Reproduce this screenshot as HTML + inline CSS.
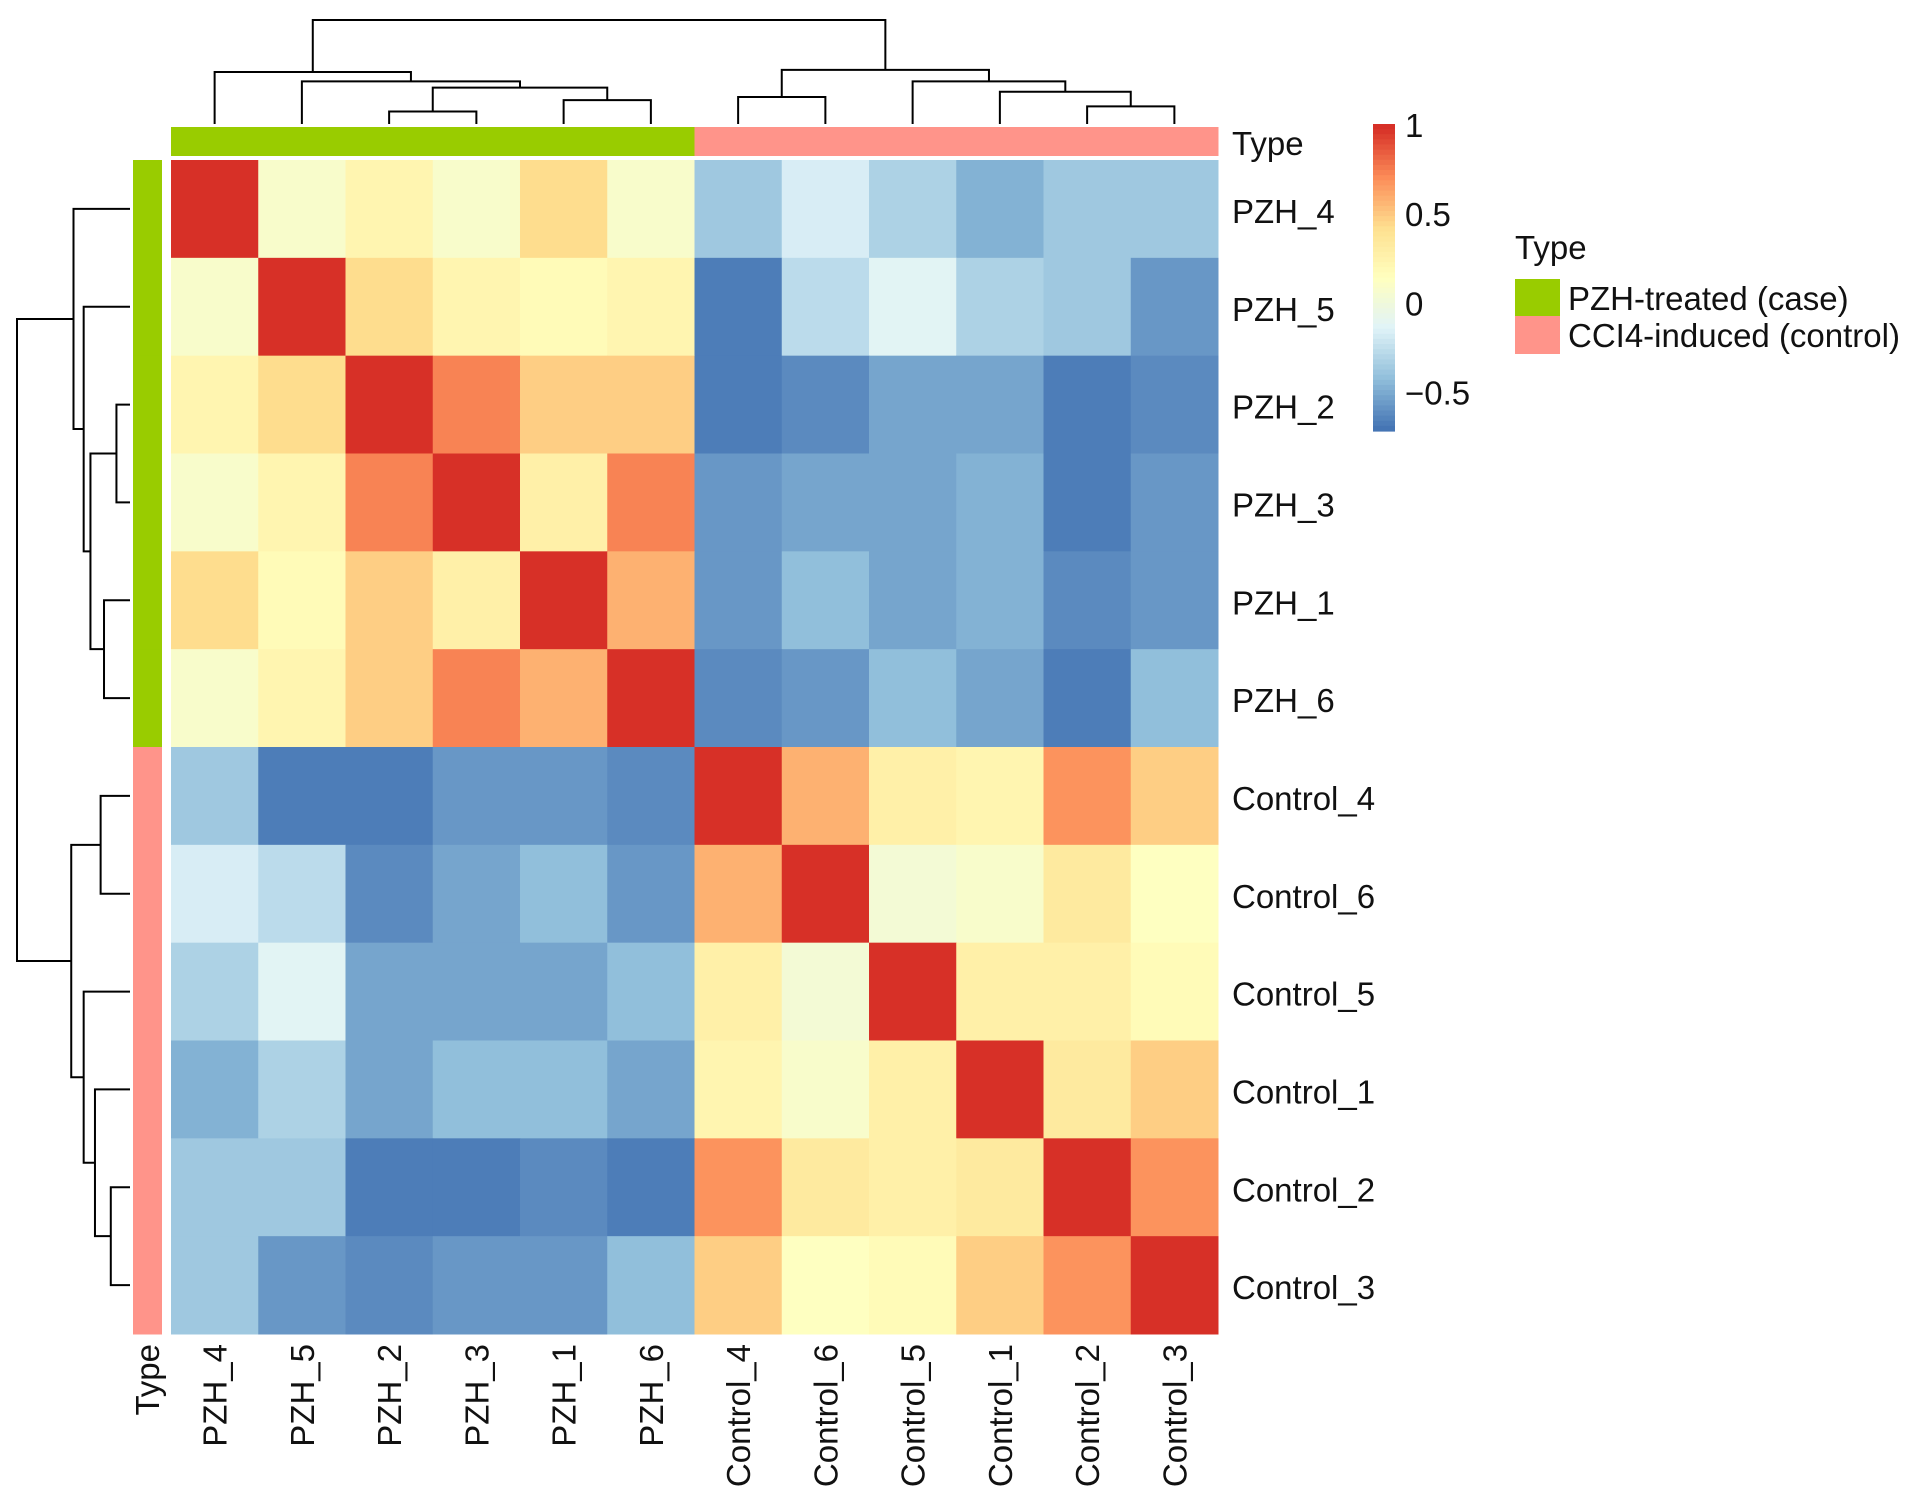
<!DOCTYPE html>
<html><head><meta charset="utf-8"><style>
html,body{margin:0;padding:0;background:#fff;}
svg{display:block;font-family:"Liberation Sans",Arial,sans-serif;}
</style></head><body>
<svg id="chart" width="1913" height="1506" viewBox="0 0 1913 1506" xmlns="http://www.w3.org/2000/svg"></svg>
<script>
const samples = ["PZH_4","PZH_5","PZH_2","PZH_3","PZH_1","PZH_6","Control_4","Control_6","Control_5","Control_1","Control_2","Control_3"];
const groups = ["case","case","case","case","case","case","control","control","control","control","control","control"];
const row0 = [1,0.1,0.25,0.1,0.45,0.1,-0.35,-0.15,-0.3,-0.45,-0.35,-0.35];
const row1 = [0.1,1,0.45,0.25,0.2,0.25,-0.65,-0.25,-0.1,-0.3,-0.35,-0.55];
const row2 = [0.25,0.45,1,0.75,0.5,0.5,-0.65,-0.6,-0.5,-0.5,-0.65,-0.6];
const row3 = [0.1,0.25,0.75,1,0.3,0.75,-0.55,-0.5,-0.5,-0.45,-0.65,-0.55];
const row4 = [0.45,0.2,0.5,0.3,1,0.6,-0.55,-0.4,-0.5,-0.45,-0.6,-0.55];
const row5 = [0.1,0.25,0.5,0.75,0.6,1,-0.6,-0.55,-0.4,-0.5,-0.65,-0.4];
const row6 = [-0.35,-0.65,-0.65,-0.55,-0.55,-0.6,1,0.6,0.3,0.25,0.7,0.5];
const row7 = [-0.15,-0.25,-0.6,-0.5,-0.4,-0.55,0.6,1,0.05,0.1,0.35,0.15];
const row8 = [-0.3,-0.1,-0.5,-0.5,-0.5,-0.4,0.3,0.05,1,0.3,0.3,0.2];
const row9 = [-0.45,-0.3,-0.5,-0.4,-0.4,-0.5,0.25,0.1,0.3,1,0.35,0.5];
const row10 = [-0.35,-0.35,-0.65,-0.65,-0.6,-0.65,0.7,0.35,0.3,0.35,1,0.7];
const row11 = [-0.35,-0.55,-0.6,-0.55,-0.55,-0.4,0.5,0.15,0.2,0.5,0.7,1];
const matrix = [row0,row1,row2,row3,row4,row5,row6,row7,row8,row9,row10,row11];
const colorTicks = [1,0.5,0,-0.5];
const merges = [[2,3,0.12],[4,5,0.23],["n0","n1",0.35],[1,"n2",0.41],[0,"n3",0.50],
  [10,11,0.17],[9,"n5",0.31],[8,"n6",0.41],[6,7,0.26],["n8","n7",0.52],["n4","n9",1.0]];

const svg = document.getElementById('chart');
const NS = "http://www.w3.org/2000/svg";
function mk(tag, attrs, parent){const e=document.createElementNS(NS,tag);for(const k in attrs)e.setAttribute(k,attrs[k]);(parent||svg).appendChild(e);return e;}

const X0=171, Y0=160, CW=(1218-171)/12, CH=(1334-160)/12;
const vmin=-0.68, vmax=1.0;
const stops=["#4575B4","#91BFDB","#E0F3F8","#FFFFBF","#FEE090","#FC8D59","#D73027"];
function hex(h){return [1,3,5].map(i=>parseInt(h.substr(i,2),16));}
function color(v){
  let t=(v-vmin)/(vmax-vmin); t=Math.max(0,Math.min(1,t));
  const p=t*(stops.length-1), i=Math.min(Math.floor(p),stops.length-2), f=p-i;
  const a=hex(stops[i]), b=hex(stops[i+1]);
  return "rgb("+a.map((c,k)=>Math.round(c+(b[k]-c)*f)).join(",")+")";
}
const xc = i => X0 + CW*(i+0.5);
const yc = i => Y0 + CH*(i+0.5);

const cellG = mk('g',{});


matrix.forEach((row,r)=>row.forEach((v,c)=>{
  const el=mk('rect',{x:X0+CW*c,y:Y0+CH*r,width:CW+0.5,height:CH+0.5,fill:color(v)},cellG);
  
  
}));

const gcol={case:"#99CC00",control:"#FF948A"};
groups.forEach((g,i)=>{
  const t=mk('rect',{x:X0+CW*i,y:127,width:CW+0.5,height:29,fill:gcol[g]});
  
  
  const l=mk('rect',{x:133,y:Y0+CH*i,width:29,height:CH+0.5,fill:gcol[g]});
  
  
});

function drawDendro(horizontal){
  const g=mk('g',{stroke:"#000","stroke-width":2,fill:"none"});
  
  
  const base = horizontal?124:130, top = horizontal?20:17;
  const hpos = h => base-(base-top)*h;
  const nodes=[];
  function pos(ref){ if(typeof ref==="number") return {c:horizontal?xc(ref):yc(ref),h:0}; return nodes[+ref.slice(1)]; }
  merges.forEach(m=>{
    const a=pos(m[0]), b=pos(m[1]), hh=hpos(m[2]);
    const ha=hpos(a.h), hb=hpos(b.h);
    let d;
    if(horizontal) d=`M${a.c},${ha}V${hh}H${b.c}V${hb}`;
    else d=`M${ha},${a.c}H${hh}V${b.c}H${hb}`;
    mk('path',{d},g);
    nodes.push({c:(a.c+b.c)/2,h:m[2]});
  });
}
drawDendro(true); drawDendro(false);

const FS=33;
samples.forEach((s,i)=>{
  const t=mk('text',{x:1232,y:yc(i)+14,"font-size":FS,fill:"#111"}); t.textContent=s;
  
  
  const b=mk('text',{x:0,y:0,"font-size":FS,fill:"#111","text-anchor":"end",transform:`translate(${xc(i)+12},1344) rotate(-90)`}); b.textContent=s;
  
  
});
let t=mk('text',{x:1232,y:155,"font-size":FS,fill:"#111"}); t.textContent="Type";
 
t=mk('text',{x:0,y:0,"font-size":FS,fill:"#111","text-anchor":"end",transform:"translate(159,1344) rotate(-90)"}); t.textContent="Type";
 

const cbTop=124, cbBot=431, cbX=1373, cbW=22;
const cbY = v => cbTop + (1.01-v)/(1.01+0.71)*(cbBot-cbTop);
const cb=mk('g',{});  
for(let k=0;k<60;k++){
  const v=1.01-(1.72)*k/60;
  mk('rect',{x:cbX,y:cbTop+(cbBot-cbTop)*k/60,width:cbW,height:(cbBot-cbTop)/60+0.6,fill:color(v)},cb);
}
colorTicks.forEach(v=>{
  const e=mk('text',{x:1405,y:cbY(v)+11,"font-size":FS,fill:"#111"},cb);
  e.textContent = v<0 ? "\u2212"+Math.abs(v) : String(v);
  
  
});

const lg=mk('g',{});  
t=mk('text',{x:1515,y:259,"font-size":FS,fill:"#111"},lg); t.textContent="Type";
 
[["case","PZH-treated (case)",279],["control","CCI4-induced (control)",316]].forEach(([g,label,y])=>{
  const r=mk('rect',{x:1515,y:y,width:45,height:38,fill:gcol[g]},lg);
   
  const e=mk('text',{x:1568,y:y+31,"font-size":FS,fill:"#111"},lg); e.textContent=label;
   
});
</script>
</body></html>
